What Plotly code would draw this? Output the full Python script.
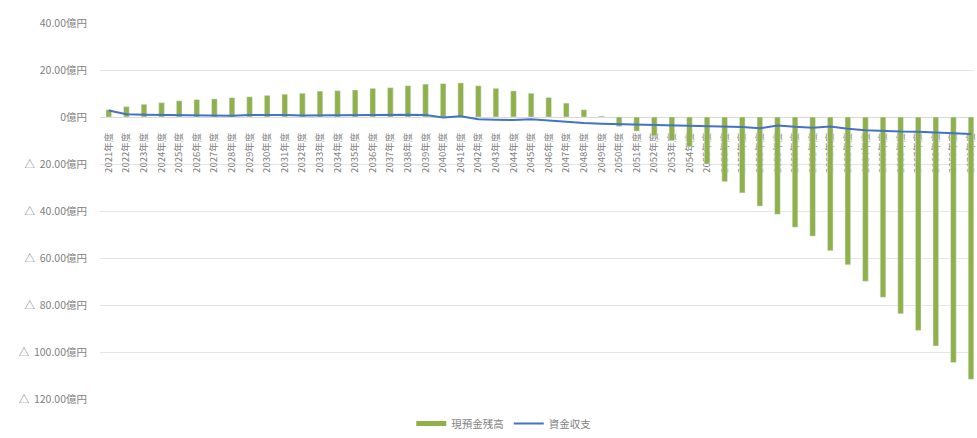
import plotly.graph_objects as go

years = [f"{y}年度" for y in range(2021, 2071)]

balance = [3.1, 4.4, 5.4, 6.1, 6.9, 7.4, 7.7, 8.2, 8.6, 9.2, 9.7,
           10.1, 11.0, 11.2, 11.5, 12.2, 12.5, 13.3, 14.0, 14.2, 14.5,
           13.3, 12.2, 11.1, 10.1, 8.3, 5.9, 3.1, 0.4,
           -4.0, -6.0, -8.0, -10.0, -12.5, -20.0,
           -27.5, -32.3, -37.9, -41.4, -46.9, -50.7, -56.9, -62.9,
           -69.9, -76.7, -83.7, -90.8, -97.4, -104.5, -111.6]

flow = [2.8, 1.2, 1.0, 0.9, 0.8, 0.6, 0.6, 0.5, 0.8, 0.9, 0.8,
        0.6, 0.7, 0.6, 0.7, 0.8, 1.0, 1.0, 0.8, -0.2, 0.3,
        -1.0, -1.2, -1.3, -1.0, -1.6, -2.2, -2.6, -2.9,
        -3.1, -3.2, -3.3, -3.4, -3.6, -3.8,
        -4.0, -4.3, -4.8, -3.6, -4.2, -4.6, -4.0, -5.0,
        -5.6, -6.0, -6.2, -6.3, -6.6, -6.9, -7.2]

ytick_vals = [40, 20, 0, -20, -40, -60, -80, -100, -120]
ytick_text = ["40.00億円", "20.00億円", "0億円",
              "△\u00a0\u00a020.00億円", "△\u00a0\u00a040.00億円",
              "△\u00a0\u00a060.00億円", "△\u00a0\u00a080.00億円",
              "△\u00a0\u00a0100.00億円", "△\u00a0\u00a0120.00億円"]

name_bar = "現預金残高"
name_line = "資金収支"

green = "#8fb04b"
blue = "#4472c4"
font_family = "Noto Sans CJK JP"

fig = go.Figure()
fig.add_trace(go.Bar(x=years, y=balance, name=name_bar, marker_color=green,
                     width=0.32, showlegend=False))
fig.add_trace(go.Scatter(x=years, y=flow, name=name_line, mode="lines",
                         line=dict(color=blue, width=2), showlegend=False))
# legend entries
fig.add_trace(go.Scatter(x=[None], y=[None], name=name_bar, mode="lines",
                         line=dict(color=green, width=5)))
fig.add_trace(go.Scatter(x=[None], y=[None], name=name_line, mode="lines",
                         line=dict(color=blue, width=2)))

fig.update_layout(
    width=977, height=438,
    margin=dict(l=100, r=0, t=23, b=31),
    paper_bgcolor="white", plot_bgcolor="white",
    font=dict(family=font_family, size=9, color="#7f7f7f"),
    legend=dict(orientation="h", x=0.462, xanchor="center", y=-0.066,
                yanchor="middle", font=dict(size=10.5, color="#7f7f7f"),
                itemwidth=30, tracegroupgap=0),
    xaxis=dict(type="category", range=[-0.5, 49.17], anchor="free",
               position=0.75, tickangle=-90, showline=True,
               linecolor="#d9d9d9", linewidth=1, ticks="",
               showgrid=False, layer="below traces",
               ticklabelstandoff=11, tickfont=dict(size=9.5, color="#7f7f7f")),
    yaxis=dict(range=[-120, 40], tickvals=ytick_vals, ticktext=ytick_text,
               showgrid=True, gridcolor="#e6e6e6", zeroline=False,
               showline=False, ticks="", ticklabelstandoff=12,
               tickfont=dict(size=10.5, color="#7f7f7f")),
)

fig.write_html("out.html")
